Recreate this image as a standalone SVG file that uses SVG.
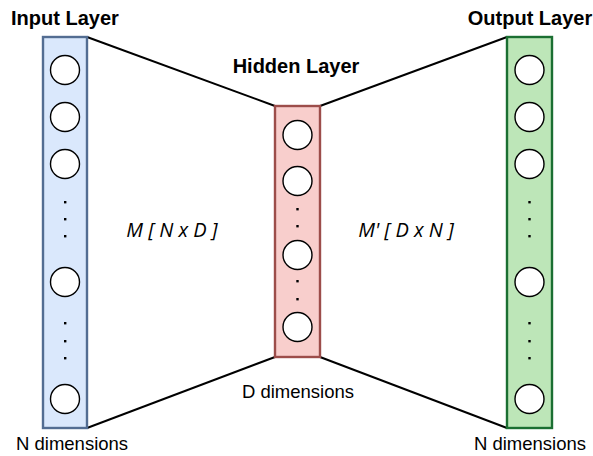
<svg xmlns="http://www.w3.org/2000/svg" width="593" height="456" viewBox="0 0 593 456">
  <style>
    .title { font-family: "Liberation Sans", Arial, sans-serif; font-weight: bold; font-size: 20px; fill: #000; }
    .label { font-family: "Liberation Sans", Arial, sans-serif; font-size: 18.5px; fill: #000; }
    .mat { font-family: "Open Sans", "DejaVu Sans", sans-serif; font-style: italic; font-size: 20px; fill: #000; }
    .unit { fill: #fff; stroke: #000; stroke-width: 1.4; }
    .dot { fill: #000; }
    .edge { stroke: #000; stroke-width: 2; fill: none; }
  </style>

  <!-- connectors between the layer boxes -->
  <g id="connectors">
    <line class="edge" x1="87" y1="37" x2="275" y2="106"/>
    <line class="edge" x1="87" y1="428" x2="275" y2="357"/>
    <line class="edge" x1="320" y1="106" x2="507" y2="37"/>
    <line class="edge" x1="320" y1="357" x2="507" y2="428"/>
  </g>

  <!-- input layer -->
  <g id="input-layer">
    <rect x="43" y="37" width="44" height="391" fill="#dae8fc" stroke="#536d92" stroke-width="2.4"/>
    <circle class="unit" cx="65" cy="70" r="14.5"/>
    <circle class="unit" cx="65" cy="117" r="14.5"/>
    <circle class="unit" cx="65" cy="164" r="14.5"/>
    <rect class="dot" x="64" y="201" width="2.4" height="2.4"/>
    <rect class="dot" x="64" y="218" width="2.4" height="2.4"/>
    <rect class="dot" x="64" y="235" width="2.4" height="2.4"/>
    <circle class="unit" cx="65" cy="282" r="14.5"/>
    <rect class="dot" x="64" y="322" width="2.4" height="2.4"/>
    <rect class="dot" x="64" y="340" width="2.4" height="2.4"/>
    <rect class="dot" x="64" y="357" width="2.4" height="2.4"/>
    <circle class="unit" cx="65" cy="399" r="14.5"/>
    <text class="title" x="11" y="25">Input Layer</text>
    <text class="label" x="16" y="450">N dimensions</text>
  </g>

  <!-- hidden layer -->
  <g id="hidden-layer">
    <rect x="275" y="106" width="45" height="251" fill="#f8cecc" stroke="#9c4d4a" stroke-width="2.4"/>
    <circle class="unit" cx="297.5" cy="135" r="14.5"/>
    <circle class="unit" cx="297.5" cy="181" r="14.5"/>
    <rect class="dot" x="296.3" y="208" width="2.4" height="2.4"/>
    <rect class="dot" x="296.3" y="225" width="2.4" height="2.4"/>
    <circle class="unit" cx="297.5" cy="255" r="14.5"/>
    <rect class="dot" x="296.3" y="280" width="2.4" height="2.4"/>
    <rect class="dot" x="296.3" y="298" width="2.4" height="2.4"/>
    <circle class="unit" cx="297.5" cy="327" r="14.5"/>
    <text class="title" x="296" y="73" text-anchor="middle">Hidden Layer</text>
    <text class="label" x="298" y="398" text-anchor="middle">D dimensions</text>
  </g>

  <!-- output layer -->
  <g id="output-layer">
    <rect x="507" y="37" width="45" height="391" fill="#bde6b8" stroke="#1b6f32" stroke-width="2.4"/>
    <circle class="unit" cx="529.5" cy="70" r="14.5"/>
    <circle class="unit" cx="529.5" cy="117" r="14.5"/>
    <circle class="unit" cx="529.5" cy="164" r="14.5"/>
    <rect class="dot" x="528.3" y="201" width="2.4" height="2.4"/>
    <rect class="dot" x="528.3" y="218" width="2.4" height="2.4"/>
    <rect class="dot" x="528.3" y="235" width="2.4" height="2.4"/>
    <circle class="unit" cx="529.5" cy="282" r="14.5"/>
    <rect class="dot" x="528.3" y="322" width="2.4" height="2.4"/>
    <rect class="dot" x="528.3" y="340" width="2.4" height="2.4"/>
    <rect class="dot" x="528.3" y="357" width="2.4" height="2.4"/>
    <circle class="unit" cx="529.5" cy="399" r="14.5"/>
    <text class="title" x="530" y="25" text-anchor="middle">Output Layer</text>
    <text class="label" x="530" y="450" text-anchor="middle">N dimensions</text>
  </g>

  <!-- weight matrices -->
  <g id="weights">
    <text class="mat" x="172" y="237" text-anchor="middle">M [ N x D ]</text>
    <text class="mat" x="406" y="237" text-anchor="middle">M' [ D x N ]</text>
  </g>
</svg>
